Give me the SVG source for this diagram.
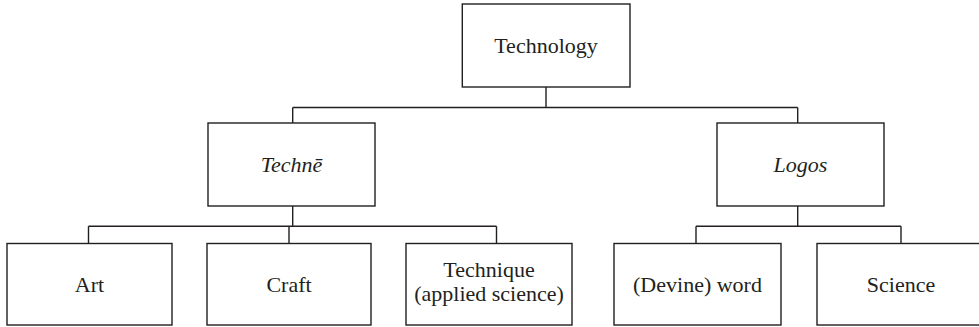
<svg xmlns="http://www.w3.org/2000/svg" width="979" height="327" viewBox="0 0 979 327">
<style>
.box{fill:#fff;stroke:#231f20;stroke-width:1.4}
.ln{fill:none;stroke:#231f20;stroke-width:1.4}
</style>
<rect width="979" height="327" fill="#fff"/>
<g id="connectors">
<path class="ln" d="M546,87 V107.5 M292.7,107.5 H797.7 M292.7,107.5 V123 M797.7,107.5 V123"/>
<path class="ln" d="M292.7,206 V226.3 M88.5,226.3 H496.5 M88.5,226.3 V243.5 M289,226.3 V243.5 M496.5,226.3 V243.5"/>
<path class="ln" d="M797.7,206 V226.3 M696,226.3 H901 M696,226.3 V243.5 M901,226.3 V243.5"/>
</g>
<g font-family="Liberation Serif, serif" font-size="22" fill="#231f20" text-anchor="middle">
<g id="technology"><rect class="box" x="462.3" y="4" width="167.7" height="83"/><text x="546" y="53">Technology</text></g>
<g id="techne"><rect class="box" x="208" y="123" width="167" height="83"/><text font-style="italic" x="291.5" y="172">Technē</text></g>
<g id="logos"><rect class="box" x="717" y="123" width="167" height="83"/><text font-style="italic" x="800.5" y="172">Logos</text></g>
<g id="art"><rect class="box" x="7" y="243.5" width="165" height="81.5"/><text x="89.5" y="292">Art</text></g>
<g id="craft"><rect class="box" x="207" y="243.5" width="164" height="81.5"/><text x="289" y="292">Craft</text></g>
<g id="technique"><rect class="box" x="406" y="243.5" width="166" height="81.5"/><text x="489" y="277">Technique</text><text x="489" y="301">(applied science)</text></g>
<g id="word"><rect class="box" x="614" y="243.5" width="167" height="81.5"/><text x="697.5" y="292">(Devine) word</text></g>
<g id="science"><rect class="box" x="817" y="243.5" width="170" height="81.5"/><text x="901" y="292">Science</text></g>
</g>
</svg>
